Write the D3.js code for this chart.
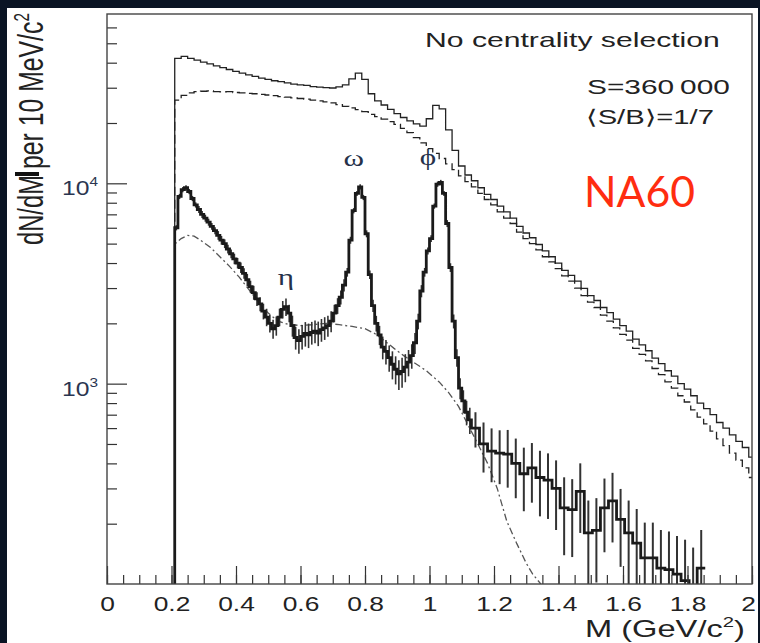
<!DOCTYPE html>
<html>
<head>
<meta charset="utf-8">
<script src="https://cdn.jsdelivr.net/npm/d3@7"></script>
<style>
  body { margin: 0; background: #0a1424; }
  svg { display: block; }
</style>
</head>
<body>
<svg id="chart" width="760" height="643"></svg>
<script>

// ---- data ----

// upper histograms: 20 MeV bins starting at 0.21 GeV
var upperStart = 0.21, upperWidth = 0.02;
var totalVals = [
    42000, 43000, 42000, 41200, 40300, 39500, 38600, 37800, 37000, 36200,
    35500, 34800, 34200, 33500, 33000, 32500, 32200, 31700, 31300, 31000,
    30800, 30400, 30200, 30000, 29900, 30300, 31000, 33200, 35500, 33000,
    28000, 25800, 24600, 23400, 22300, 21300, 20500, 19800, 19300, 21000,
    24500, 23500, 18500, 14600, 12200, 11000, 10300, 9500, 8800, 8300,
    7700, 7200, 6700, 6100, 5650, 5350, 4950, 4600, 4300, 4000,
    3680, 3470, 3250, 2990, 2750, 2600, 2400, 2260, 2100, 1950,
    1830, 1670, 1560, 1460, 1340, 1260, 1160, 1090, 1000, 940,
    870, 800, 750, 700, 640, 600, 555, 515, 480, 430
];
var backgroundVals = [
    26000, 27500, 28300, 28700, 28800, 28900, 28700, 28600, 28700, 28400,
    28300, 28100, 28000, 27800, 27600, 27400, 27100, 26900, 26700, 26500,
    26300, 26000, 25800, 25500, 25200, 24700, 24200, 23800, 23300, 22800,
    22100, 21500, 20900, 20300, 19700, 18800, 17900, 16900, 15900, 14900,
    14100, 13300, 12500, 11700, 10900, 10200, 9600, 8900, 8300, 7800,
    7200, 6700, 6300, 5700, 5300, 5000, 4650, 4300, 4050, 3750,
    3450, 3250, 3000, 2750, 2550, 2400, 2200, 2050, 1900, 1760,
    1650, 1500, 1400, 1300, 1190, 1110, 1020, 950, 870, 810,
    740, 680, 630, 580, 530, 490, 450, 415, 380, 340
];

// signal (thick, with errors): 10 MeV bins from 0.21 to 1.13
var sigLoStart = 0.21, sigLoWidth = 0.01;
var sigLoVals = [
    6000, 8600, 9300, 9500, 9100, 8400, 7800, 7400, 7000, 6700,
    6400, 6100, 5800, 5500, 5200, 5000, 4700, 4450, 4200, 4000,
    3800, 3550, 3300, 3050, 2850, 2650, 2500, 2300, 2150, 2000,
    1880, 1950, 2150, 2350, 2420, 2250, 1950, 1700, 1640, 1720,
    1780, 1750, 1800, 1830, 1790, 1860, 1900, 1950, 2050, 2250,
    2450, 2700, 3100, 3600, 5200, 7300, 8900, 9600, 8500, 5600,
    3500, 2450, 2000, 1750, 1520, 1450, 1350, 1250, 1180, 1120,
    1150, 1210, 1280, 1380, 1600, 2050, 2900, 3600, 4600, 5300,
    7700, 9900, 10100, 8900, 6300, 3800, 2050, 1350, 950, 820,
    720, 660
];
// relative errors of those bins
var sigLoErr = [
    .03, .03, .03, .03, .03, .03, .03, .04, .04, .04,
    .04, .04, .04, .05, .05, .05, .05, .05, .06, .06,
    .06, .06, .07, .07, .08, .08, .08, .09, .10, .10,
    .11, .11, .10, .10, .10, .10, .12, .13, .14, .14,
    .14, .14, .13, .13, .14, .13, .13, .12, .12, .10,
    .09, .08, .07, .05, .04, .03, .03, .03, .03, .04,
    .05, .07, .09, .11, .13, .14, .15, .16, .16, .17,
    .17, .16, .15, .14, .12, .09, .07, .05, .04, .04,
    .03, .03, .03, .03, .04, .05, .08, .10, .12, .13,
    .14, .15
];
// signal above 1.13 GeV: 25 MeV bins
var sigHiStart = 1.13, sigHiWidth = 0.025;
var sigHiVals = [
    600, 500, 460, 450, 445, 400, 355, 380, 340, 330,
    300, 240, 235, 290, 180, 185, 240, 260, 210, 180,
    160, 135, 135, 120, 118, 112, 104, 95, 120
];
var sigHiErr = [
    .20, .28, .30, .30, .32, .33, .35, .33, .36, .36,
    .38, .42, .42, .38, .45, .45, .40, .38, .42, .45,
    .48, .50, .50, .55, .55, .55, .60, .60, .55
];

// dash-dotted curve
var cocktailMass = [0.21, 0.212, 0.23, 0.25, 0.27, 0.29, 0.32, 0.35, 0.38, 0.41, 0.44, 0.47, 0.50,
    0.53, 0.56, 0.60, 0.64, 0.68, 0.72, 0.76, 0.80, 0.83, 0.86, 0.89, 0.92, 0.96, 0.99,
    1.03, 1.06, 1.09, 1.12, 1.15, 1.18, 1.21, 1.24, 1.27, 1.30, 1.32, 1.345];
var cocktailVals = [100, 5000, 5300, 5500, 5450, 5200, 4800, 4300, 3850, 3400, 2950, 2550, 2250,
    2050, 1980, 1950, 1970, 2000, 1970, 1930, 1880, 1780, 1640, 1500, 1380, 1250, 1160,
    1020, 900, 770, 620, 500, 400, 300, 205, 160, 127, 112, 100];

// resonance labels
var peakNames = ['\u03b7', '\u03c9', '\u03d5'];
var peakMass = [0.555, 0.765, 0.995];
var peakLabelY = [3100, 12200, 12300];

// axes
var xMajor = [0, 0.2, 0.4, 0.6, 0.8, 1, 1.2, 1.4, 1.6, 1.8, 2];
var yMajor = [1000, 10000];
var yMajorExp = ['3', '4'];
var yMinor = [200, 300, 400, 500, 600, 700, 800, 900,
    2000, 3000, 4000, 5000, 6000, 7000, 8000, 9000,
    20000, 30000, 40000, 50000, 60000];

// ---- drawing ----

var W = 760, H = 643;
var m = {left: 107, right: 752, top: 14, bottom: 584};
var sans = '"Liberation Sans", Arial, Helvetica, sans-serif';
var stretch = 1.43;

var svg = d3.select('#chart');

svg.append('rect').attr('width', W).attr('height', H).attr('fill', '#0a1424');
svg.append('rect').attr('x', 7).attr('y', 8).attr('width', 751).attr('height', H - 8).attr('fill', '#ffffff');

var x = d3.scaleLinear().domain([0, 2]).range([m.left, m.right]);
var y = d3.scaleLog().domain([100, 70000]).range([m.bottom, m.top]);

svg.append('clipPath').attr('id', 'plotClip')
    .append('rect')
    .attr('x', m.left).attr('y', m.top)
    .attr('width', m.right - m.left).attr('height', m.bottom - m.top);

var plot = svg.append('g').attr('clip-path', 'url(#plotClip)');

function toBins(start, width, vals) {
    return vals.map(function (v, i) {
        return {x0: start + i * width, x1: start + (i + 1) * width, v: v};
    });
}

function yv(v) {
    return y(Math.max(v, 40));
}

function stepPath(bins) {
    var pts = [[bins[0].x0, 40]];
    bins.forEach(function (b) {
        pts.push([b.x0, b.v]);
        pts.push([b.x1, b.v]);
    });
    return d3.line()
        .x(function (d) { return x(d[0]); })
        .y(function (d) { return yv(d[1]); })(pts);
}

var totalBins = toBins(upperStart, upperWidth, totalVals);
var bgBins = toBins(upperStart, upperWidth, backgroundVals);
var sigBins = toBins(sigLoStart, sigLoWidth, sigLoVals)
    .map(function (b, i) { b.e = sigLoErr[i]; return b; })
    .concat(toBins(sigHiStart, sigHiWidth, sigHiVals)
        .map(function (b, i) { b.e = sigHiErr[i]; return b; }));

// dashed background
plot.append('path')
    .attr('d', stepPath(bgBins))
    .attr('fill', 'none')
    .attr('stroke', '#222')
    .attr('stroke-width', 1.3)
    .attr('stroke-dasharray', '9,4');

// solid total
plot.append('path')
    .attr('d', stepPath(totalBins))
    .attr('fill', 'none')
    .attr('stroke', '#222')
    .attr('stroke-width', 1.3);

// dash-dotted cocktail
plot.append('path')
    .datum(cocktailMass.map(function (d, i) { return [d, cocktailVals[i]]; }))
    .attr('d', d3.line()
        .x(function (d) { return x(d[0]); })
        .y(function (d) { return yv(d[1]); }))
    .attr('fill', 'none')
    .attr('stroke', '#555')
    .attr('stroke-width', 1.3)
    .attr('stroke-dasharray', '7,3,2,3');

// error bars of the signal
plot.append('g').selectAll('line')
    .data(sigBins)
    .enter().append('line')
    .attr('x1', function (d) { return x((d.x0 + d.x1) / 2); })
    .attr('x2', function (d) { return x((d.x0 + d.x1) / 2); })
    .attr('y1', function (d) { return yv(d.v * (1 - d.e)); })
    .attr('y2', function (d) { return yv(d.v * (1 + d.e)); })
    .attr('stroke', '#333')
    .attr('stroke-width', function (d) { return d.x0 >= sigHiStart - 0.001 ? 2 : 1.6; });

// thick signal
plot.append('path')
    .attr('d', stepPath(sigBins))
    .attr('fill', 'none')
    .attr('stroke', '#1a1a1a')
    .attr('stroke-width', 2.8);

// ticks
var axisFont = function (g) {
    g.attr('font-family', sans).attr('font-size', 20);
    g.select('.domain').remove();
    g.selectAll('line').attr('stroke', '#333').attr('stroke-width', 1.2);
};

svg.append('g')
    .attr('transform', 'translate(0,' + m.bottom + ')')
    .call(d3.axisBottom(x).tickValues(d3.range(0, 2.001, 0.05)).tickSize(-9).tickFormat(''))
    .call(axisFont);

var gx = svg.append('g')
    .attr('transform', 'translate(0,' + m.bottom + ')')
    .call(d3.axisBottom(x).tickValues(xMajor).tickSize(-18).tickPadding(13)
        .tickFormat(function (d) { return String(+d.toFixed(1)); }))
    .call(axisFont);
gx.selectAll('text').attr('fill', '#222').attr('transform', 'scale(1.32,1)');
gx.selectAll('.tick').filter(function (d) { return d === 2; })
    .select('text').attr('transform', 'translate(-4,0) scale(1.32,1)');

svg.append('g')
    .attr('transform', 'translate(' + m.left + ',0)')
    .call(d3.axisLeft(y).tickValues(yMinor).tickSize(-10).tickFormat(''))
    .call(axisFont);
svg.append('g')
    .attr('transform', 'translate(' + m.left + ',0)')
    .call(d3.axisLeft(y).tickValues(yMajor).tickSize(-20).tickFormat(''))
    .call(axisFont);

// frame
svg.append('rect')
    .attr('x', m.left).attr('y', m.top)
    .attr('width', m.right - m.left).attr('height', m.bottom - m.top)
    .attr('fill', 'none')
    .attr('stroke', '#444')
    .attr('stroke-width', 1.4);

// text helper: parts may carry a superscript
function addText(p) {
    var g = svg.append('g');
    var t = g.append('text')
        .attr('font-family', p.family || sans)
        .attr('font-size', p.size)
        .attr('fill', p.fill || '#222')
        .attr('text-anchor', p.anchor || 'start');
    var parts = p.parts || [{t: p.text}];
    var wasSup = false;
    parts.forEach(function (part) {
        var s = t.append('tspan').text(part.t);
        if (part.sup) {
            s.attr('dy', -p.size * 0.42).attr('font-size', p.size * 0.62);
        } else if (wasSup) {
            s.attr('dy', p.size * 0.42);
        }
        wasSup = !!part.sup;
    });
    var sx = p.sx || 1;
    if (p.width) sx = p.width / t.node().getComputedTextLength();
    g.attr('transform', 'translate(' + p.x + ',' + p.y + ') scale(' + (p.px || 1) + ',1) rotate(' + (p.rot || 0) + ') scale(' + sx + ',1)');
    return g;
}

// y tick labels
yMajor.forEach(function (v, i) {
    addText({x: m.left - 9, y: y(v) + 12, size: 21, anchor: 'end', fill: '#2a3550',
        parts: [{t: '10'}, {t: yMajorExp[i], sup: true}], width: 36});
});

// resonance labels
peakNames.forEach(function (name, i) {
    addText({x: x(peakMass[i]), y: y(peakLabelY[i]), text: name, size: 24, anchor: 'middle',
        family: '"Liberation Serif", "DejaVu Serif", serif', fill: '#26324a', sx: 1.3});
});

// annotations
addText({x: 425, y: 47, text: 'No centrality selection', size: 21, width: 295});
addText({x: 587, y: 94, text: 'S=360\u2009000', size: 21, width: 143});
addText({x: 586, y: 124, text: '\u27e8S/B\u27e9=1/7', size: 20, width: 128});
addText({x: 584, y: 207, text: 'NA60', size: 42, width: 111,
    family: 'Lato, "Open Sans", sans-serif', fill: '#ff2d10'});

// axis titles
addText({x: 585, y: 637, size: 23, width: 160,
    parts: [{t: 'M (GeV/c'}, {t: '2', sup: true}, {t: ')'}]});
addText({x: 43, y: 245, text: 'dN/dM', size: 24, rot: -90, px: stretch, width: 70});
svg.append('rect').attr('x', 15).attr('y', 172).attr('width', 24).attr('height', 4).attr('fill', '#111');
addText({x: 43, y: 169, size: 24, rot: -90, px: stretch, width: 156,
    parts: [{t: 'per 10 MeV/c'}, {t: '2', sup: true}]});

</script>
</body>
</html>
